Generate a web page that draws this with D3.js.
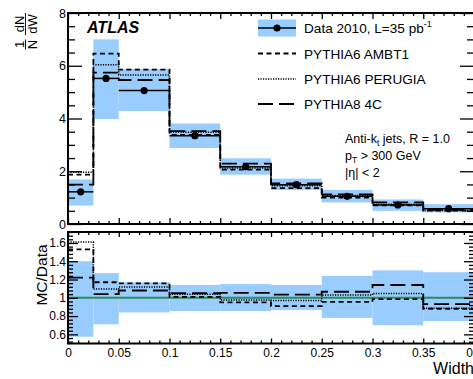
<!DOCTYPE html>
<html><head><meta charset="utf-8">
<script src="https://cdn.jsdelivr.net/npm/d3@7"></script>
<style>body{margin:0;background:#fff;} svg{display:block;font-family:"Liberation Sans",Arial,Helvetica,sans-serif;}</style>
</head><body><svg id="c" width="473" height="379"></svg>
<script>
// ---- data ----
const binEdges   = [0, 0.025, 0.05, 0.1, 0.15, 0.2, 0.25, 0.3, 0.35, 0.4];
const dataVals   = [1.22, 5.52, 5.06, 3.35, 2.17, 1.49, 1.05, 0.72, 0.58];
const dataBandLo = [0.70, 3.98, 4.28, 2.88, 1.87, 1.29, 0.82, 0.50, 0.44];
const dataBandHi = [1.69, 7.00, 5.88, 3.81, 2.49, 1.72, 1.29, 0.93, 0.75];
const ambt1      = [1.87, 6.46, 5.85, 3.38, 2.06, 1.36, 1.00, 0.71, 0.51];
const perugia    = [1.96, 6.04, 5.65, 3.48, 2.12, 1.45, 1.08, 0.75, 0.51];
const pythia8    = [1.49, 5.74, 5.46, 3.52, 2.29, 1.54, 1.12, 0.82, 0.54];
const ratioBandLo  = [0.574, 0.71, 0.84, 0.855, 0.855, 0.866, 0.78, 0.70, 0.745];
const ratioBandHi  = [1.40, 1.27, 1.17, 1.14, 1.15, 1.14, 1.24, 1.30, 1.28];
const ratioAmbt1   = [1.53, 1.17, 1.157, 1.01, 0.95, 0.91, 0.956, 0.986, 0.88];
const ratioPerugia = [1.61, 1.095, 1.117, 1.04, 0.975, 0.97, 1.03, 1.048, 0.885];
const ratioPythia8 = [1.22, 1.04, 1.08, 1.05, 1.055, 1.035, 1.066, 1.14, 0.93];
const topYTicks = [0, 2, 4, 6, 8];
const ratioYTicks = [0.6, 0.8, 1, 1.2, 1.4, 1.6];
const xTicks = [0, 0.05, 0.1, 0.15, 0.2, 0.25, 0.3, 0.35, 0.4];
const legendLabels = ["Data 2010, L=35 pb", "PYTHIA6 AMBT1", "PYTHIA6 PERUGIA", "PYTHIA8 4C"];

const svg = d3.select("#c");
const L = 68, R = 474;
const topT = 13, topB = 224, lowT = 232, lowB = 343.5;
const BAND = "#99ccff";
const x = d3.scaleLinear().domain([0, 0.4]).range([L, R]);
const yT = d3.scaleLinear().domain([0, 8]).range([topB, topT]);
const yR = d3.scaleLinear().domain([0.5, 1.72]).range([lowB, lowT]);

const styles = {
  ambt1:   {dash: "5,3.5", w: 1.8},
  perugia: {dash: "1.2,1.3", w: 1.5},
  pythia8: {dash: "15,6", w: 1.8}
};

function stepPts(vals) {
  const p = [];
  vals.forEach((v, i) => { p.push([binEdges[i], v]); p.push([binEdges[i + 1], v]); });
  return p;
}

svg.append("defs").html(
  `<clipPath id="clipT"><rect x="${L}" y="${topT}" width="${R-L}" height="${topB-topT}"/></clipPath>
   <clipPath id="clipR"><rect x="${L}" y="${lowT}" width="${R-L}" height="${lowB-lowT}"/></clipPath>`);

function panel(yS, clipId, bandLo, bandHi, series, drawData) {
  const g = svg.append("g").attr("clip-path", `url(#${clipId})`);
  g.selectAll("rect.band").data(bandLo).join("rect")
    .attr("x", (d, i) => x(binEdges[i])).attr("width", (d, i) => x(binEdges[i + 1]) - x(binEdges[i]))
    .attr("y", (d, i) => yS(bandHi[i])).attr("height", (d, i) => yS(bandLo[i]) - yS(bandHi[i]))
    .attr("fill", BAND);
  if (!drawData) {
    g.append("line").attr("x1", L).attr("x2", R).attr("y1", yS(1)).attr("y2", yS(1))
      .attr("stroke", "#2e8b57").attr("stroke-width", 2);
  }
  const line = d3.line().x(d => x(d[0])).y(d => yS(d[1]));
  series.forEach(s => {
    g.append("path").attr("d", line(stepPts(s.vals))).attr("fill", "none")
      .attr("stroke", "#000").attr("stroke-width", styles[s.key].w)
      .attr("stroke-dasharray", styles[s.key].dash);
  });
  if (drawData) {
    g.selectAll("line.err").data(dataVals).join("line")
      .attr("x1", (d, i) => x(binEdges[i])).attr("x2", (d, i) => x(binEdges[i + 1]))
      .attr("y1", d => yS(d)).attr("y2", d => yS(d)).attr("stroke", "#000").attr("stroke-width", 1.5);
    g.selectAll("circle").data(dataVals).join("circle")
      .attr("cx", (d, i) => x((binEdges[i] + binEdges[i + 1]) / 2)).attr("cy", d => yS(d))
      .attr("r", 3.6).attr("fill", "#000");
  }
}

panel(yT, "clipT", dataBandLo, dataBandHi,
  [{key: "pythia8", vals: pythia8}, {key: "perugia", vals: perugia}, {key: "ambt1", vals: ambt1}], true);
panel(yR, "clipR", ratioBandLo, ratioBandHi,
  [{key: "pythia8", vals: ratioPythia8}, {key: "perugia", vals: ratioPerugia}, {key: "ambt1", vals: ratioAmbt1}], false);

// ---- axes ----
function minorRange(a, b, step) { const r = []; for (let v = a; v <= b + 1e-9; v += step) r.push(+v.toFixed(4)); return r; }
const xMinor = minorRange(0, 0.4, 0.01).filter(v => Math.abs(v / 0.05 - Math.round(v / 0.05)) > 1e-6);
const topMinor = minorRange(0, 8, 0.5).filter(v => v % 2 !== 0);
const rMinor = minorRange(0.52, 1.72, 0.04).filter(v => Math.abs(v / 0.2 - Math.round(v / 0.2)) > 1e-6);

function styleAxis(sel, fs) {
  sel.select(".domain").remove();
  sel.selectAll(".tick line").attr("stroke", "#000").attr("stroke-width", 1.3);
  sel.selectAll("text").attr("font-size", fs).attr("fill", "#000").attr("font-family", '"Liberation Sans",Arial,sans-serif');
}
function addAxis(axis, tx, ty, fs) {
  const g = svg.append("g").attr("transform", `translate(${tx},${ty})`).call(axis);
  styleAxis(g, fs);
  return g;
}
const noLab = () => "";
const xFmt = d => d === 0 ? "0" : String(+d.toFixed(2));

// top panel
addAxis(d3.axisLeft(yT).tickValues(topYTicks).tickSize(-14).tickPadding(2).tickFormat(d3.format("d")), L, 0, 12.5);
addAxis(d3.axisLeft(yT).tickValues(topMinor).tickSize(-7).tickFormat(noLab), L, 0, 12);
addAxis(d3.axisRight(yT).tickValues(topYTicks).tickSize(-14).tickFormat(noLab), R, 0, 12);
addAxis(d3.axisRight(yT).tickValues(topMinor).tickSize(-7).tickFormat(noLab), R, 0, 12);
addAxis(d3.axisBottom(x).tickValues(xTicks).tickSize(-6).tickFormat(noLab), 0, topB, 12);
addAxis(d3.axisBottom(x).tickValues(xMinor).tickSize(-3).tickFormat(noLab), 0, topB, 12);
addAxis(d3.axisTop(x).tickValues(xTicks).tickSize(-6).tickFormat(noLab), 0, topT, 12);
addAxis(d3.axisTop(x).tickValues(xMinor).tickSize(-3).tickFormat(noLab), 0, topT, 12);
// ratio panel
addAxis(d3.axisLeft(yR).tickValues(ratioYTicks).tickSize(-10).tickPadding(2).tickFormat(d => String(+d.toFixed(1))), L, 0, 12);
addAxis(d3.axisLeft(yR).tickValues(rMinor).tickSize(-5).tickFormat(noLab), L, 0, 12);
addAxis(d3.axisRight(yR).tickValues(ratioYTicks).tickSize(-10).tickFormat(noLab), R, 0, 12);
addAxis(d3.axisRight(yR).tickValues(rMinor).tickSize(-5).tickFormat(noLab), R, 0, 12);
addAxis(d3.axisBottom(x).tickValues(xTicks).tickSize(-5).tickPadding(5).tickFormat(xFmt), 0, lowB, 12);
addAxis(d3.axisBottom(x).tickValues(xMinor).tickSize(-3).tickFormat(noLab), 0, lowB, 12);
addAxis(d3.axisTop(x).tickValues(xTicks).tickSize(-5).tickFormat(noLab), 0, lowT, 12);
addAxis(d3.axisTop(x).tickValues(xMinor).tickSize(-3).tickFormat(noLab), 0, lowT, 12);

// frames
[[topT, topB], [lowT, lowB]].forEach(([a, b]) => {
  svg.append("rect").attr("x", L).attr("y", a).attr("width", R - L).attr("height", b - a)
    .attr("fill", "none").attr("stroke", "#000").attr("stroke-width", 2);
});

// ---- titles ----
svg.append("text").attr("x", R).attr("y", 374).attr("text-anchor", "end")
  .attr("font-size", 16).text("Width");
svg.append("text").attr("transform", "translate(47,275) rotate(-90)").attr("text-anchor", "middle")
  .attr("font-size", 15.5).text("MC/Data");
const yt = svg.append("g").attr("transform", "translate(25.5,0) rotate(-90)").attr("font-size", 13);
[[-44.5, "1", "N"], [-24, "dN", "dW"]].forEach(([cx, num, den]) => {
  yt.append("text").attr("x", cx).attr("y", -2).attr("text-anchor", "middle").text(num);
  yt.append("text").attr("x", cx).attr("y", 11.5).attr("text-anchor", "middle").text(den);
  const w = num.length > 1 ? 22 : 10;
  yt.append("line").attr("x1", cx - w / 2).attr("x2", cx + w / 2).attr("y1", 0).attr("y2", 0)
    .attr("stroke", "#000").attr("stroke-width", 0.9);
});

svg.append("text").attr("x", 87).attr("y", 33).attr("font-size", 16).attr("font-weight", "bold")
  .attr("font-style", "italic").text("ATLAS");

// legend
const lgX0 = 258, lgX1 = 296, lgTx = 304;
const rows = [28, 53.5, 79, 104];
svg.append("rect").attr("x", lgX0).attr("y", rows[0] - 8.5).attr("width", lgX1 - lgX0).attr("height", 17).attr("fill", BAND);
svg.append("line").attr("x1", lgX0).attr("x2", lgX1).attr("y1", rows[0]).attr("y2", rows[0]).attr("stroke", "#000").attr("stroke-width", 1.5);
svg.append("circle").attr("cx", (lgX0 + lgX1) / 2).attr("cy", rows[0]).attr("r", 3.6).attr("fill", "#000");
["ambt1", "perugia", "pythia8"].forEach((k, i) => {
  svg.append("line").attr("x1", lgX0).attr("x2", lgX1).attr("y1", rows[i + 1]).attr("y2", rows[i + 1])
    .attr("stroke", "#000").attr("stroke-width", styles[k].w).attr("stroke-dasharray", styles[k].dash);
});
legendLabels.forEach((t, i) => {
  const tx = svg.append("text").attr("x", lgTx).attr("y", rows[i] + 5).attr("font-size", 13.6).text(t);
  if (i === 0) tx.append("tspan").attr("font-size", 9).attr("dy", -6).text("-1");
});

// annotation
const an = svg.append("g").attr("font-size", 12.5);
const a1 = an.append("text").attr("x", 345).attr("y", 143);
a1.append("tspan").text("Anti-k");
a1.append("tspan").attr("font-size", 8.5).attr("dy", 3).text("t");
a1.append("tspan").attr("dy", -3).text(" jets, R = 1.0");
const a2 = an.append("text").attr("x", 345).attr("y", 160);
a2.append("tspan").text("p");
a2.append("tspan").attr("font-size", 8.5).attr("dy", 3).text("T");
a2.append("tspan").attr("dy", -3).text(" > 300 GeV");
an.append("text").attr("x", 345).attr("y", 177).text("|η| < 2");
</script></body></html>
